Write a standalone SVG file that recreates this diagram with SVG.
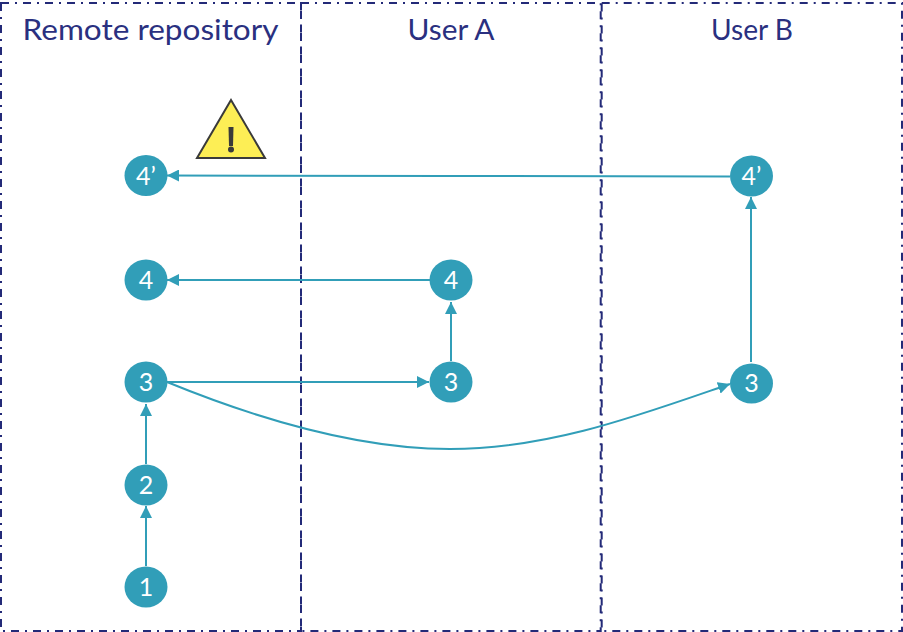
<svg xmlns="http://www.w3.org/2000/svg" width="903" height="632" viewBox="0 0 903 632">
<style>
.lane{fill:none;stroke:#232a78;stroke-width:2;stroke-dasharray:8 6 2 6}
.title{font-family:"Lato","Open Sans",sans-serif;font-size:28px;fill:#2a3080;text-anchor:middle}
.c{fill:#319eb8}
.n{font-family:"Lato","Open Sans",sans-serif;font-size:25px;fill:#fff;text-anchor:middle}
.e{fill:none;stroke:#319eb8;stroke-width:2;marker-end:url(#a)}
</style>
<defs><marker id="a" markerUnits="userSpaceOnUse" markerWidth="13" markerHeight="12" refX="12" refY="6" orient="auto"><path d="M0 0L12 6L0 12Z" fill="#319eb8"/></marker></defs>
<rect width="903" height="632" fill="#fff"/>
<g id="lanes">
<rect id="lane-remote" class="lane" x="1" y="3" width="300" height="628"/>
<rect id="lane-a" class="lane" x="301" y="3" width="299.700" height="628"/>
<rect id="lane-b" class="lane" x="601.700" y="3" width="300.300" height="628"/>
<text class="title" x="150.500" y="40" textLength="256" lengthAdjust="spacingAndGlyphs">Remote repository</text>
<text class="title" x="451" y="40" textLength="87" lengthAdjust="spacingAndGlyphs">User A</text>
<text class="title" x="752" y="40" textLength="82" lengthAdjust="spacingAndGlyphs">User B</text>
</g>
<g id="connectors">
<path class="e" d="M146 566V506"/>
<path class="e" d="M146 464V404"/>
<path class="e" d="M167 382H429"/>
<path class="e" d="M451 361V302"/>
<path class="e" d="M430 280H167"/>
<path class="e" d="M751 362V197"/>
<path class="e" d="M730 176.500L450 176L167 175.500"/>
<path class="e" d="M167 382C260 420 360 449 450 449C550 449 640 415 730 384"/>
</g>
<g id="warning">
<path d="M231 100L265 158H197Z" fill="#fdee55" stroke="#3a3a3a" stroke-width="2"/>
<path d="M228.500 127h5l-.5 19h-4Z" fill="#3a3a3a"/>
<circle cx="231" cy="149.500" r="3" fill="#3a3a3a"/>
</g>
<g id="n1"><ellipse class="c" cx="146" cy="587" rx="21.500" ry="20.500"/><text class="n" x="146" y="596">1</text></g>
<g id="n2"><ellipse class="c" cx="146" cy="485" rx="21.500" ry="20.500"/><text class="n" x="146" y="494">2</text></g>
<g id="n3"><ellipse class="c" cx="146" cy="382" rx="21.500" ry="20.500"/><text class="n" x="146" y="391">3</text></g>
<g id="n4"><ellipse class="c" cx="146" cy="280" rx="21.500" ry="20.500"/><text class="n" x="146" y="289">4</text></g>
<g id="n4p"><ellipse class="c" cx="146" cy="175.500" rx="21.500" ry="20.500"/><text class="n" x="146" y="185">4’</text></g>
<g id="a3"><ellipse class="c" cx="451" cy="382" rx="21.500" ry="20.500"/><text class="n" x="451" y="391">3</text></g>
<g id="a4"><ellipse class="c" cx="451" cy="280" rx="21.500" ry="20.500"/><text class="n" x="451" y="289">4</text></g>
<g id="b3"><ellipse class="c" cx="751.500" cy="383.500" rx="21.500" ry="20"/><text class="n" x="751.500" y="392">3</text></g>
<g id="b4p"><ellipse class="c" cx="751.500" cy="176" rx="21.500" ry="20.500"/><text class="n" x="751.500" y="185">4’</text></g>
</svg>
